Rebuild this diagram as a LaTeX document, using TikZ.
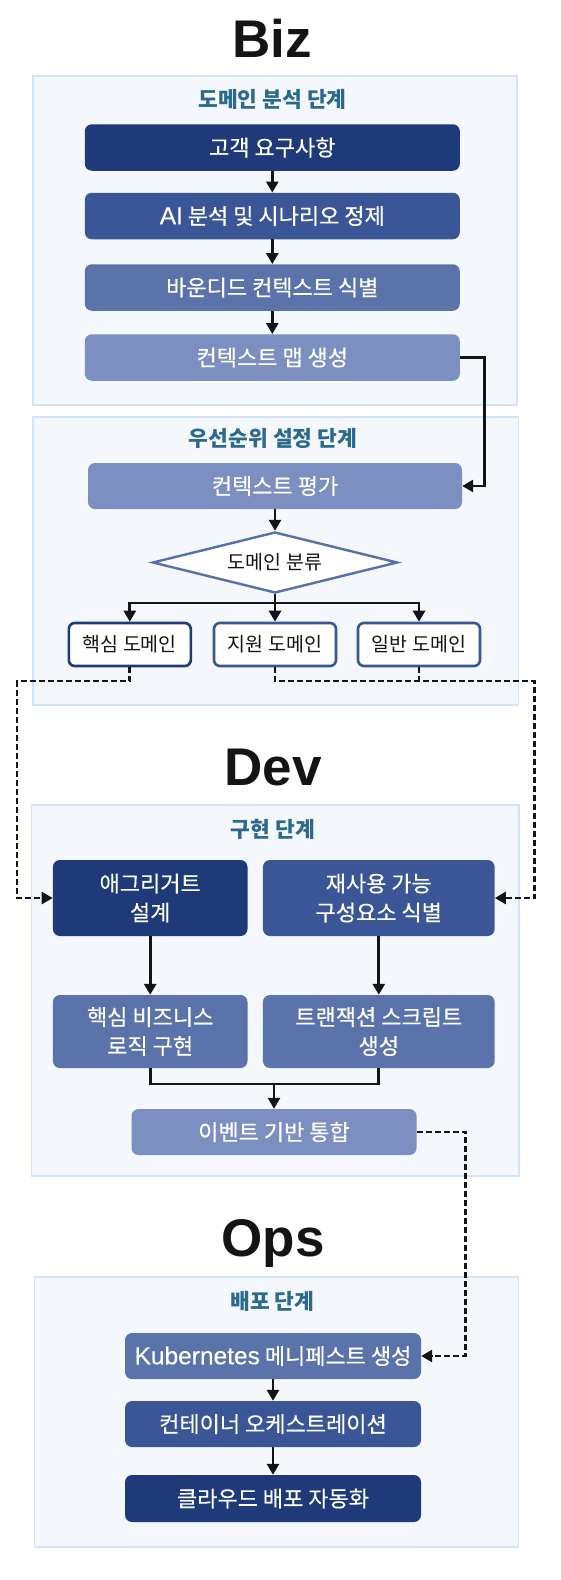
\documentclass[tikz,border=0pt]{standalone}
\usepackage{fontspec}
\setmainfont{Noto Sans CJK KR}
\newfontfamily\krm[FakeBold=0.35]{Noto Sans CJK KR}
\newfontfamily\latf{Liberation Sans}
\newfontfamily\latm[FakeBold=0.35]{Liberation Sans}
\usetikzlibrary{shapes.geometric,arrows.meta}
\definecolor{nA}{HTML}{1E3A78}
\definecolor{nB}{HTML}{3A5697}
\definecolor{nC}{HTML}{5B73AB}
\definecolor{nD}{HTML}{7B8FC0}
\definecolor{contfill}{HTML}{F4F8FC}
\definecolor{contline}{HTML}{D3E3F8}
\definecolor{hdr}{HTML}{2B6A8D}
\definecolor{ink}{HTML}{141414}
\definecolor{diaedge}{HTML}{5670AD}
\newcommand\lt[1]{{\latm\fontsize{24.5}{29}\selectfont #1}}
\begin{document}
\begin{tikzpicture}[x=1pt,y=-1pt,
  cont/.style={draw=contline,fill=contfill,line width=1.6pt},
  hdrtext/.style={text=hdr,font=\bfseries\fontsize{21.5}{24}\selectfont,inner sep=0},
  ttl/.style={anchor=base,text=ink,inner sep=0,font=\latf\bfseries\fontsize{53}{53}\selectfont},
  bx/.style={rounded corners=7pt,inner sep=0,text=white,align=center,font=\krm\fontsize{22}{29}\selectfont,minimum height=46.5pt},
  dom/.style={draw,fill=white,line width=2.6pt,rounded corners=6pt,inner sep=0,minimum width=122pt,minimum height=43pt,text=ink,font=\fontsize{19.5}{22}\selectfont},
  ln/.style={draw=ink,line width=2.8pt},
  arr/.style={ln,-{Triangle[length=11pt,width=12pt]}},
  dln/.style={ln,dash pattern=on 6pt off 3pt},
  darr/.style={dln,-{Triangle[length=11pt,width=12pt]}},
]
\fill[white] (0,0) rectangle (560,1580);
\useasboundingbox (0,0) rectangle (560,1580);

% ---------- Biz ----------
\node[ttl] (tbiz) at (272,57) {Biz};
\draw[cont] (33,76) rectangle (517,405);
\node[hdrtext] (h1) at (272.5,99) {도메인 분석 단계};
\node[bx,fill=nA,minimum width=375pt] (b1) at (272.3,147.5) {고객 요구사항};
\node[bx,fill=nB,minimum width=375pt] (b2) at (272.3,216) {\lt{AI} 분석 및 시나리오 정제};
\node[bx,fill=nC,minimum width=375pt] (b3) at (272.3,287.5) {바운디드 컨텍스트 식별};
\node[bx,fill=nD,minimum width=375pt] (b4) at (272.3,357.5) {컨텍스트 맵 생성};

\draw[cont] (33,417) rectangle (518.6,705);
\node[hdrtext] (h2) at (273,438) {우선순위 설정 단계};
\node[bx,fill=nD,minimum width=374pt,minimum height=46pt] (eval) at (275,486) {컨텍스트 평가};
\node[diamond,draw=diaedge,fill=white,line width=2.4pt,aspect=4,minimum width=245pt,minimum height=61pt,inner sep=0,text=ink,font=\fontsize{19.5}{22}\selectfont] (dia) at (275,562.5) {도메인 분류};
\node[dom,draw=nA] (core) at (129.8,644.5) {핵심 도메인};
\node[dom,draw=nB] (supp) at (275,644.5) {지원 도메인};
\node[dom,draw=nB] (gen) at (419,644.5) {일반 도메인};

% ---------- Dev ----------
\node[ttl] (tdev) at (273,785) {Dev};
\draw[cont] (31.4,805) rectangle (519,1176);
\node[hdrtext] (h3) at (273,829) {구현 단계};
\node[bx,fill=nA,minimum width=194.6pt,minimum height=76pt] (agg) at (150.2,898) {애그리거트\\설계};
\node[bx,fill=nB,minimum width=231.7pt,minimum height=76pt] (reuse) at (378.8,898) {재사용 가능\\구성요소 식별};
\node[bx,fill=nC,minimum width=194.6pt,minimum height=73pt] (core2) at (150.2,1031.5) {핵심 비즈니스\\로직 구현};
\node[bx,fill=nC,minimum width=231.7pt,minimum height=73pt] (trans) at (378.8,1031.5) {트랜잭션 스크립트\\생성};
\node[bx,fill=nD,minimum width=285pt,minimum height=46pt] (event) at (274,1132) {이벤트 기반 통합};

% ---------- Ops ----------
\node[ttl] (tops) at (273,1256) {Ops};
\draw[cont] (34.6,1277) rectangle (518.6,1547);
\node[hdrtext] (h4) at (272.5,1301) {배포 단계};
\node[bx,fill=nC,minimum width=296pt,minimum height=46pt] (k8s) at (273,1356) {\lt{Kubernetes} 메니페스트 생성};
\node[bx,fill=nB,minimum width=296pt,minimum height=46pt] (orch) at (273,1424) {컨테이너 오케스트레이션};
\node[bx,fill=nA,minimum width=296pt,minimum height=47pt] (cloud) at (273,1498.5) {클라우드 배포 자동화};

% ---------- connectors ----------
\draw[arr] (b1.south) -- (b2.north);
\draw[arr] (b2.south) -- (b3.north);
\draw[arr] (b3.south) -- (b4.north);
\coordinate (rb) at (484.5,0);
\draw[arr] (b4.east) -- (b4.east -| rb) |- (eval.east);
\draw[arr] (eval.south) -- (dia.north);
\coordinate (sp) at (275,603);
\draw[ln] (dia.south) -- (sp);
\draw[arr] (sp) -| (core.north);
\draw[arr] (sp) -| (gen.north);
\draw[arr] (sp) -- (supp.north);

\coordinate (lx) at (17,681);
\coordinate (rx) at (534.5,681);
\draw[darr] (core.south) |- (lx) |- (agg.west);
\draw[darr] (supp.south) |- (rx) |- (reuse.east);
\draw[dln] (gen.south) -- (gen.south |- rx);

\draw[arr] (agg.south) -- (core2.north);
\draw[arr] (reuse.south) -- (trans.north);
\coordinate (m) at (274,1084);
\draw[ln] (core2.south) |- (m) -| (trans.south);
\draw[arr] (m) -- (event.north);
\coordinate (ex) at (465.5,0);
\draw[darr] (event.east) -- (event.east -| ex) |- (k8s.east);

\draw[arr] (k8s.south) -- (orch.north);
\draw[arr] (orch.south) -- (cloud.north);
\end{tikzpicture}
\end{document}
